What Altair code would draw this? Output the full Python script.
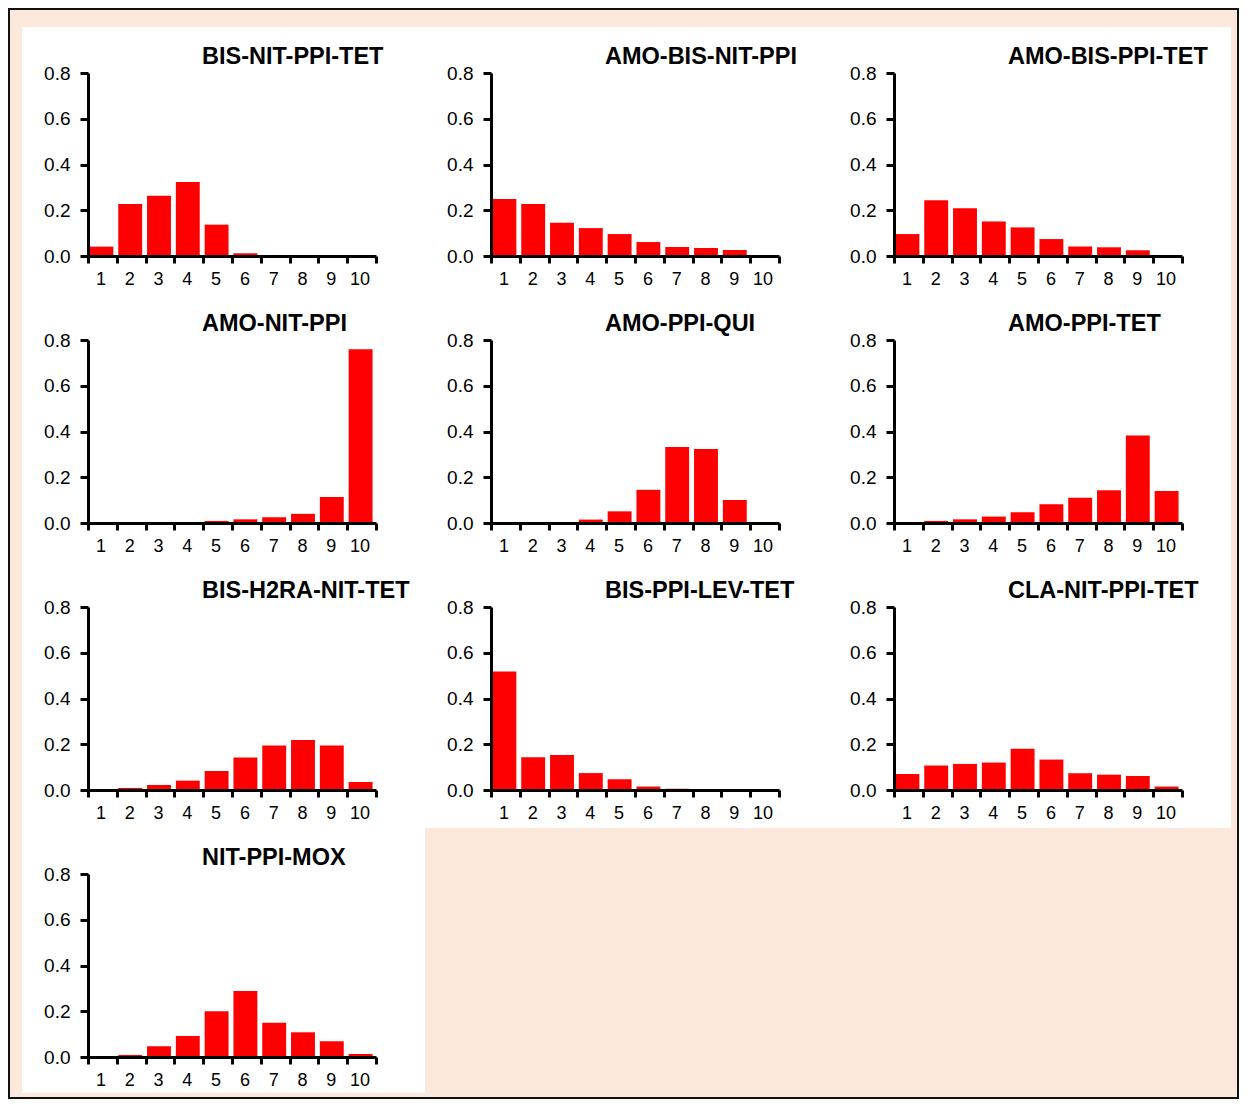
import altair as alt
import pandas as pd

categories = [str(i) for i in range(1, 11)]
y_ticks = [0.0, 0.2, 0.4, 0.6, 0.8]

titles = [
    "BIS-NIT-PPI-TET", "AMO-BIS-NIT-PPI", "AMO-BIS-PPI-TET",
    "AMO-NIT-PPI", "AMO-PPI-QUI", "AMO-PPI-TET",
    "BIS-H2RA-NIT-TET", "BIS-PPI-LEV-TET", "CLA-NIT-PPI-TET",
    "NIT-PPI-MOX",
]

bis_nit_ppi_tet = [0.041, 0.227, 0.263, 0.324, 0.137, 0.012, 0.0, 0.0, 0.0, 0.0]
amo_bis_nit_ppi = [0.249, 0.227, 0.145, 0.122, 0.096, 0.061, 0.039, 0.035, 0.026, 0.0]
amo_bis_ppi_tet = [0.096, 0.244, 0.209, 0.151, 0.125, 0.074, 0.041, 0.038, 0.025, 0.0]
amo_nit_ppi = [0.0, 0.0, 0.0, 0.0, 0.009, 0.016, 0.025, 0.040, 0.114, 0.760]
amo_ppi_qui = [0.0, 0.0, 0.0, 0.015, 0.051, 0.145, 0.332, 0.323, 0.101, 0.0]
amo_ppi_tet = [0.0, 0.009, 0.016, 0.028, 0.047, 0.082, 0.110, 0.143, 0.382, 0.140]
bis_h2ra_nit_tet = [0.0, 0.009, 0.022, 0.041, 0.083, 0.142, 0.194, 0.219, 0.194, 0.035]
bis_ppi_lev_tet = [0.518, 0.143, 0.153, 0.074, 0.047, 0.015, 0.005, 0.0, 0.0, 0.0]
cla_nit_ppi_tet = [0.070, 0.107, 0.114, 0.120, 0.180, 0.133, 0.073, 0.067, 0.061, 0.015]
nit_ppi_mox = [0.0, 0.009, 0.047, 0.092, 0.200, 0.289, 0.150, 0.108, 0.069, 0.013]

series = [
    bis_nit_ppi_tet, amo_bis_nit_ppi, amo_bis_ppi_tet,
    amo_nit_ppi, amo_ppi_qui, amo_ppi_tet,
    bis_h2ra_nit_tet, bis_ppi_lev_tet, cla_nit_ppi_tet,
    nit_ppi_mox,
]

PANEL_W = 288
PANEL_H = 183


def panel(title, values, first=False, last_row=False):
    df = pd.DataFrame({"category": categories, "value": values})
    one = pd.DataFrame({"k": [0]})
    bg = alt.Chart(one).mark_rect(color="white").encode(
        x=alt.value(-66), x2=alt.value(337),
        y=alt.value(-46), y2=alt.value(219 if last_row else 221),
    )
    layers = [bg]
    if first:
        border = alt.Chart(one).mark_rect(
            fillOpacity=0, stroke="#111111", strokeWidth=2
        ).encode(
            x=alt.value(-79), x2=alt.value(1150),
            y=alt.value(-64), y2=alt.value(1025),
        )
        layers.append(border)
    bars = alt.Chart(df).mark_bar(
        color="#FF0000", width=alt.RelativeBandSize(band=0.83), xOffset=-1
    ).encode(
        x=alt.X(
            "category:N", sort=categories,
            scale=alt.Scale(paddingInner=0, paddingOuter=0),
            axis=alt.Axis(title=None, labelAngle=0, tickBand="extent",
                          tickSize=7, labelPadding=7, labelOffset=-2,
                          labelFontSize=18, zindex=1),
        ),
        y=alt.Y(
            "value:Q",
            scale=alt.Scale(domain=[0, 0.8], nice=False, zero=True),
            axis=alt.Axis(title=None, values=y_ticks, format=".1f",
                          tickSize=8, labelPadding=10, labelFontSize=19,
                          zindex=1),
        ),
    )
    layers.append(bars)
    return alt.layer(*layers).properties(
        width=PANEL_W, height=PANEL_H,
        title=alt.TitleParams(text=title, anchor="start", frame="group",
                              dx=114, dy=79 if first else 60, offset=0,
                              baseline="alphabetic", zindex=1),
    )


panels = [panel(t, v, first=(i == 0), last_row=(i == 9))
          for i, (t, v) in enumerate(zip(titles, series))]

chart = alt.concat(
    *panels, columns=3, spacing={"row": 84, "column": 115}, bounds="flush"
).properties(
    padding=0, background="#FCE9DC"
).configure_view(
    strokeWidth=0
).configure_axis(
    domainColor="black", domainWidth=3, tickColor="black", tickWidth=3,
    labelColor="black", labelFont="Liberation Sans",
    grid=False,
).configure_title(
    font="Liberation Sans", fontSize=23.5, fontWeight="bold", color="black",
)

chart.save("out.html", embed_options={"renderer": "svg", "actions": False})
